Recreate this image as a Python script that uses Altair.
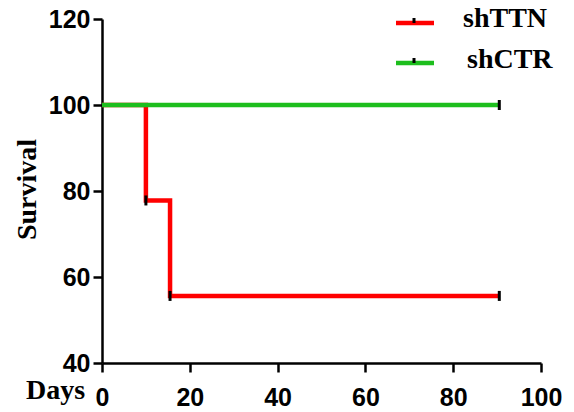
import altair as alt
import pandas as pd

# Kaplan-Meier style survival data
ttn_days = [0, 10, 15.5, 90.5]
ttn_surv = [100, 77.8, 55.6, 55.6]
ctr_days = [0, 90.5]
ctr_surv = [100, 100]

# censor marks
cens_days = [10, 15.5, 90.5, 90.5]
cens_surv = [77.8, 55.6, 55.6, 100]

groups = ["shTTN", "shCTR"]
colors = ["#FF0000", "#1DBE1D"]

ttn_df = pd.DataFrame({"group": "shTTN", "days": ttn_days, "surv": ttn_surv})
ctr_df = pd.DataFrame({"group": "shCTR", "days": ctr_days, "surv": ctr_surv})
cens = pd.DataFrame({"days": cens_days, "surv": cens_surv})

xscale = alt.Scale(domain=[0, 100], nice=False)
yscale = alt.Scale(domain=[40, 120], nice=False, zero=False)
cscale = alt.Scale(domain=groups, range=colors)

xaxis = alt.Axis(values=[0, 20, 40, 60, 80, 100], title="Days", grid=False,
                 tickSize=9, tickWidth=2.5, domainWidth=2.5, domainColor="black", tickColor="black",
                 labelFont="Liberation Sans", labelFontWeight="bold", labelFontSize=25, labelColor="black",
                 labelPadding=13, labelFlush=False,
                 titleFont="Liberation Serif", titleFontWeight="bold", titleFontSize=28, titleColor="black",
                 titleX=-47, titleY=35, titleAlign="center", titleBaseline="alphabetic", titleAngle=0)
yaxis = alt.Axis(values=[40, 60, 80, 100, 120], title="Survival", grid=False,
                 tickSize=9, tickWidth=2.5, domainWidth=2.5, domainColor="black", tickColor="black",
                 labelFont="Liberation Sans", labelFontWeight="bold", labelFontSize=25, labelColor="black",
                 labelPadding=3, labelFlush=False,
                 titleFont="Liberation Serif", titleFontWeight="bold", titleFontSize=28, titleColor="black",
                 titleX=-75, titleY=170, titleAlign="center", titleBaseline="middle", titleAngle=-90)

line_ttn = alt.Chart(ttn_df).mark_line(interpolate="step-after", strokeWidth=4.5).encode(
    x=alt.X("days:Q", scale=xscale, axis=xaxis),
    y=alt.Y("surv:Q", scale=yscale, axis=yaxis),
    color=alt.Color("group:N", scale=cscale, legend=None),
)
line_ctr = alt.Chart(ctr_df).mark_line(interpolate="step-after", strokeWidth=4.5).encode(
    x=alt.X("days:Q", scale=xscale, axis=xaxis),
    y=alt.Y("surv:Q", scale=yscale, axis=yaxis),
    color=alt.Color("group:N", scale=cscale, legend=None),
)
ticks = alt.Chart(cens).mark_tick(color="black", size=10, thickness=3, opacity=1).encode(
    x=alt.X("days:Q", scale=xscale, axis=xaxis),
    y=alt.Y("surv:Q", scale=yscale, axis=yaxis),
)

# manual legend
leg_df = pd.DataFrame({"group": groups, "ly": [4, 44], "tx": [361, 365], "ty": [8, 49]})
leg_line = alt.Chart(leg_df).mark_rule(strokeWidth=4.5).encode(
    x=alt.value(294), x2=alt.value(332), y=alt.Y("ly:Q", scale=None, axis=None),
    color=alt.Color("group:N", scale=cscale, legend=None),
)
leg_tick = alt.Chart(leg_df).mark_rule(strokeWidth=3, color="black").encode(
    x=alt.value(312), y=alt.Y("ly:Q", scale=None, axis=None), y2=alt.Y2("ly2:Q"),
).transform_calculate(ly2="datum.ly - 5")
leg_text = alt.Chart(leg_df).mark_text(
    font="Liberation Serif", fontWeight="bold", fontSize=28, align="left", baseline="alphabetic", color="black"
).encode(x=alt.X("tx:Q", scale=None, axis=None), y=alt.Y("ty:Q", scale=None, axis=None), text="group:N")

chart = alt.layer(line_ttn, line_ctr, ticks, leg_line, leg_tick, leg_text).properties(
    width=439, height=344,
    background="white",
    autosize=alt.AutoSizeParams(type="none"),
    padding={"left": 102, "top": 19, "right": 33, "bottom": 49},
).configure_view(stroke=None, strokeWidth=0).configure_axis(grid=False)

chart.save("out.html", embed_options={"renderer": "svg", "actions": False})
